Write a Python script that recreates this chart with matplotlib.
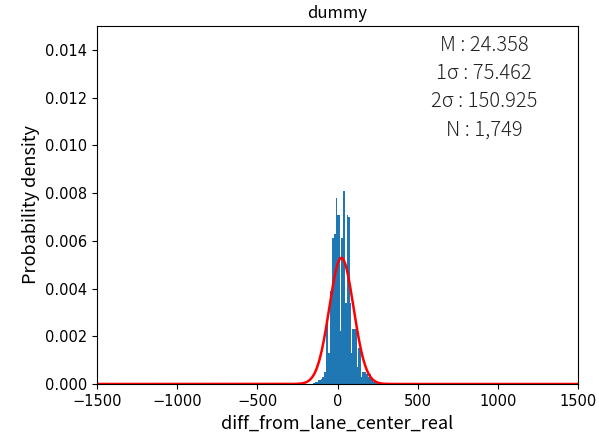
import numpy as np
import matplotlib
matplotlib.use("Agg")
import matplotlib.pyplot as plt

# ---- data ----
bin_start = -150.0
bin_width = 6.25
density = [0.00005, 0.00005, 0.0001, 0.0001, 0.0001, 0.00015, 0.00015, 0.0002, 0.0003, 0.0003,
           0.0005, 0.0005, 0.0025, 0.0025, 0.0013, 0.0013, 0.0039, 0.0039, 0.0061, 0.0061,
           0.0063, 0.0063, 0.0078, 0.0071, 0.0071, 0.0071, 0.0022, 0.0061, 0.0061, 0.0081,
           0.0081, 0.0034, 0.0034, 0.0071, 0.0070, 0.0070, 0.0034, 0.0013, 0.0023, 0.0023,
           0.0023, 0.0023, 0.0023, 0.0007, 0.0015, 0.0015, 0.0015, 0.0003, 0.0005, 0.0005,
           0.0005, 0.0005, 0.0004, 0.0005, 0.0003, 0.0004, 0.0004, 0.0002, 0.0002, 0.0001,
           0.0001, 0.00005, 0.00005]
mean_val = 24.358
sigma1 = 75.462
sigma2 = 150.925
n_count = 1749
title = "dummy"
xlabel = "diff_from_lane_center_real"
ylabel = "Probability density"

plt.rcParams["font.family"] = ["DejaVu Sans"]
jp = ["Noto Sans CJK JP", "DejaVu Sans"]

edges = bin_start + bin_width * np.arange(len(density) + 1)
fig = plt.figure(figsize=(5.99, 4.37), dpi=100)
ax = fig.add_axes([0.162, 0.1213, 0.803, 0.8192])

ax.hist(edges[:-1], bins=edges, weights=density, color="#1f77b4")

xs = np.linspace(-1500, 1500, 1000)
pdf = np.exp(-0.5 * ((xs - mean_val) / sigma1) ** 2) / (sigma1 * np.sqrt(2 * np.pi))
ax.plot(xs, pdf, color="red", lw=1.8)

ax.set_xlim(-1500, 1500)
ax.set_ylim(0, 0.015)
yt = np.arange(0, 0.0141, 0.002)
ax.set_yticks(yt)
ax.set_yticklabels([f"{v:.3f}" for v in yt])
ax.tick_params(labelsize=10.5)

ax.set_title(title, family=jp, fontsize=12)
ax.set_xlabel(xlabel, family=jp, fontsize=13)
ax.set_ylabel(ylabel, family=jp, fontsize=13)

stats = (f"M : {mean_val:.3f}\n1σ : {sigma1:.3f}\n2σ : {sigma2:.3f}\nN : {n_count:,}")
ax.text(0.805, 0.975, stats, transform=ax.transAxes, ha="center", va="top",
        multialignment="center", family=jp, fontsize=14.5, linespacing=1.45,
        fontweight="light", color="#222222")

fig.savefig("out.png", dpi=100)
